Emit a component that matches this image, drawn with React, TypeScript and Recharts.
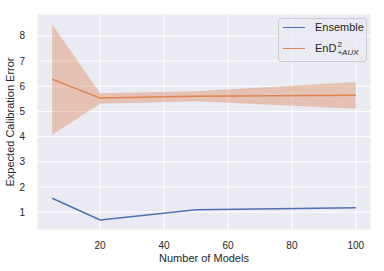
import {
  Area,
  CartesianGrid,
  ComposedChart,
  Line,
  XAxis,
  YAxis,
} from "recharts";

const models = [5, 20, 50, 100];
const ensemble = [1.55, 0.69, 1.09, 1.17];
const endAux = [6.28, 5.53, 5.6, 5.64];
const endLow = [4.07, 5.3, 5.4, 5.11];
const endHigh = [8.45, 5.72, 5.8, 6.17];

const xTicks = [20, 40, 60, 80, 100];
const yTicks = [1, 2, 3, 4, 5, 6, 7, 8];

const BLUE = "#4c72b0";
const ORANGE = "#dd8452";
const TEXT = "#262626";
const FONT = "'Liberation Sans', Arial, sans-serif";

const data = models.map((m, i) => ({
  m,
  ensemble: ensemble[i],
  end: endAux[i],
  band: [endLow[i], endHigh[i]],
}));

function LegendBox() {
  const row = { display: "flex", alignItems: "center" };
  const swatch = (c: string) => (
    <span
      style={{
        display: "inline-block",
        width: 22,
        height: 0,
        borderTop: `1.5px solid ${c}`,
        marginRight: 10,
      }}
    />
  );
  return (
    <div
      style={{
        position: "absolute",
        left: 278,
        top: 18,
        width: 89,
        height: 44,
        boxSizing: "border-box",
        border: "1px solid #cccccc",
        borderRadius: 3,
        background: "rgba(234,234,242,0.8)",
        padding: "0 0 0 4px",
        fontFamily: FONT,
        fontSize: 11,
        color: TEXT,
      }}
    >
      <div style={{ ...row, height: 16 }}>
        {swatch(BLUE)}
        <span>Ensemble</span>
      </div>
      <div style={{ ...row, height: 26 }}>
        {swatch(ORANGE)}
        <span>EnD</span>
        <span
          style={{
            position: "relative",
            display: "inline-block",
            width: 24,
            height: 12,
            fontSize: 8,
            lineHeight: "8px",
            marginLeft: 1,
          }}
        >
          <span style={{ position: "absolute", left: 0, top: -1 }}>2</span>
          <span style={{ position: "absolute", left: 0, top: 7, fontStyle: "italic" }}>
            +AUX
          </span>
        </span>
      </div>
    </div>
  );
}

export default function App() {
  return (
    <div style={{ position: "absolute", left: 0, top: 0, width: 384, height: 271, background: "#fff" }}>
      <ComposedChart
        width={384}
        height={271}
        data={data}
        margin={{ top: 14, right: 13, bottom: 0, left: 0 }}
      >
        <CartesianGrid fill="#eaeaf2" stroke="#ffffff" strokeWidth={1} />
        <XAxis
          dataKey="m"
          type="number"
          domain={[0.25, 104.75]}
          ticks={xTicks}
          axisLine={false}
          tickLine={false}
          height={41}
          tickMargin={6}
          tick={{ fill: TEXT, fontSize: 10, fontFamily: FONT }}
          label={{
            value: "Number of Models",
            position: "insideBottom",
            offset: 9,
            fill: TEXT,
            fontSize: 11,
            fontFamily: FONT,
          }}
        />
        <YAxis
          type="number"
          domain={[0.29, 8.87]}
          ticks={yTicks}
          axisLine={false}
          tickLine={false}
          width={37}
          tickMargin={6}
          tick={{ fill: TEXT, fontSize: 10, fontFamily: FONT }}
          label={{
            value: "Expected Calibration Error",
            angle: -90,
            position: "insideLeft",
            offset: 10,
            fill: TEXT,
            fontSize: 11,
            fontFamily: FONT,
            style: { textAnchor: "middle" },
          }}
        />
        <Area
          dataKey="band"
          type="linear"
          stroke="none"
          fill={ORANGE}
          fillOpacity={0.4}
          isAnimationActive={false}
          activeDot={false}
        />
        <Line
          dataKey="ensemble"
          type="linear"
          stroke={BLUE}
          strokeWidth={1.5}
          dot={false}
          isAnimationActive={false}
        />
        <Line
          dataKey="end"
          type="linear"
          stroke={ORANGE}
          strokeWidth={1.5}
          dot={false}
          isAnimationActive={false}
        />
      </ComposedChart>
      <LegendBox />
    </div>
  );
}
